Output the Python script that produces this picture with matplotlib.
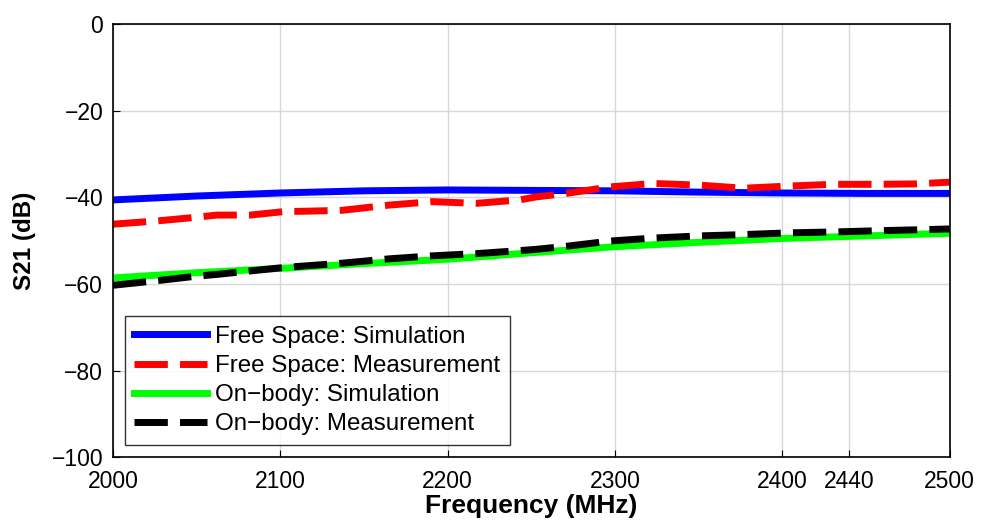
import matplotlib.pyplot as plt
import numpy as np

plt.rcParams['font.family'] = ['Liberation Sans', 'DejaVu Sans']

# S21 readings (dB) against frequency (MHz)
freq_sim = [2000, 2050, 2100, 2150, 2200, 2250, 2300, 2350, 2400, 2450, 2500]
fs_sim = [-40.6, -39.7, -39.0, -38.5, -38.3, -38.4, -38.5, -38.8, -39.0, -39.1, -39.1]
ob_sim = [-58.6, -57.4, -56.4, -55.3, -54.3, -52.8, -51.4, -50.4, -49.5, -48.9, -48.3]

freq_meas = [2000, 2025, 2050, 2062, 2082, 2102, 2116, 2137, 2165, 2191, 2217,
             2243, 2253, 2271, 2297, 2323, 2351, 2377, 2404, 2430, 2458, 2480, 2500]
fs_meas = [-46.2, -45.5, -44.6, -44.1, -44.1, -43.3, -43.2, -43.0, -41.8, -41.0, -41.4,
           -40.6, -39.9, -39.1, -37.6, -36.8, -37.2, -37.9, -37.4, -37.0, -37.0, -36.9, -36.5]
ob_meas = [-60.3, -59.3, -58.2, -57.8, -57.0, -56.2, -55.8, -55.2, -54.2, -53.5, -53.0,
           -52.3, -52.0, -51.3, -50.1, -49.4, -48.9, -48.6, -48.2, -48.0, -47.7, -47.5, -47.3]

xticks = [2000, 2100, 2200, 2300, 2400, 2440, 2500]
yticks = [0, -20, -40, -60, -80, -100]

fig, ax = plt.subplots(figsize=(9.82, 5.22), dpi=100)
fig.subplots_adjust(left=0.115, right=0.967, top=0.954, bottom=0.124)

lw = 5.0
dash = (4.8, 1.75)
ax.plot(freq_sim, fs_sim, color='#0000ff', linewidth=lw, label='Free Space: Simulation')
ax.plot(freq_meas, fs_meas, color='#ff0000', linewidth=lw, dashes=dash,
        label='Free Space: Measurement')
ax.plot(freq_sim, ob_sim, color='#00ff00', linewidth=lw, label='On\u2212body: Simulation')
ax.plot(freq_meas, ob_meas, color='black', linewidth=lw, dashes=dash,
        label='On\u2212body: Measurement')

ax.set_xlim(2000, 2500)
ax.set_ylim(-100, 0)
ax.set_xticks(xticks)
ax.set_yticks(yticks)
ax.set_yticklabels([str(v).replace('-', '\u2212') for v in yticks])
ax.tick_params(direction='in', labelsize=16.5, length=5, width=0.8)
ax.tick_params(axis='y', pad=7)
ax.tick_params(axis='x', pad=9)
ax.grid(True, color='#d8d8d8', linewidth=1.0)
ax.set_axisbelow(True)
for s in ax.spines.values():
    s.set_linewidth(1.2)

ax.set_xlabel('Frequency (MHz)', fontsize=19, fontweight='bold', labelpad=1)
ax.set_ylabel('S21 (dB)', fontsize=17.5, fontweight='bold', labelpad=11)

leg = ax.legend(loc='lower left', bbox_to_anchor=(0.014, 0.028), fontsize=17.4,
                frameon=True, fancybox=False, edgecolor='black', handlelength=3.0,
                handletextpad=0.35, labelspacing=0.3, borderpad=0.4,
                borderaxespad=0)
leg.get_frame().set_linewidth(1.0)

fig.savefig('out.png', dpi=100)
